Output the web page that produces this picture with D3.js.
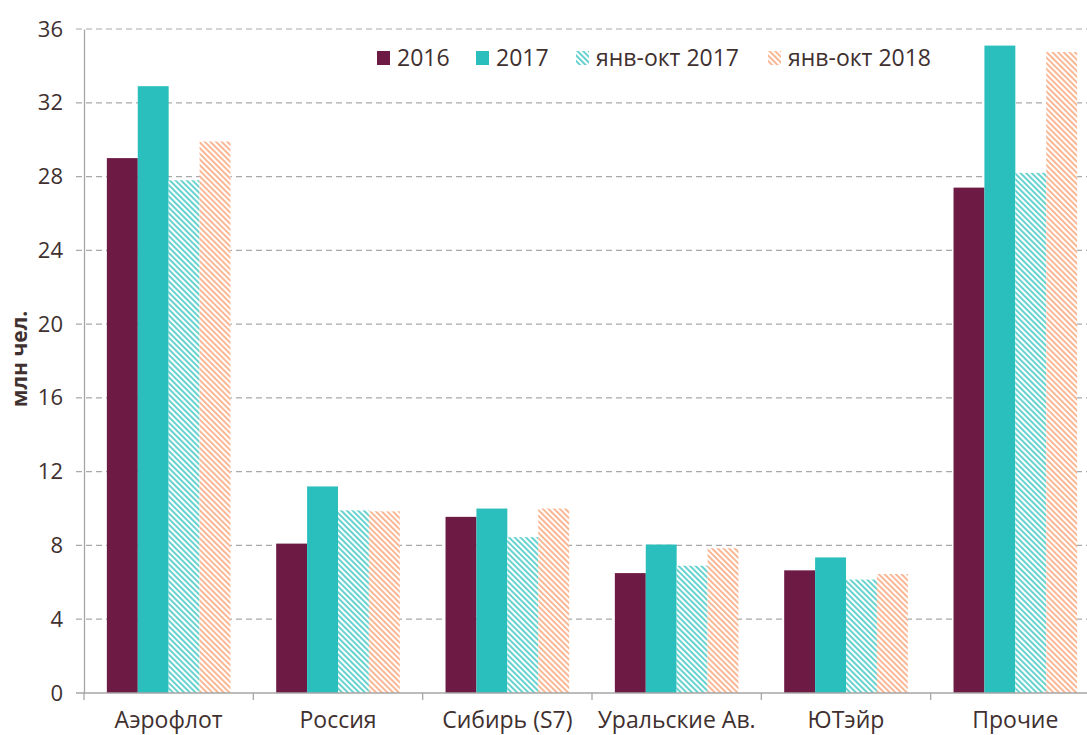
<!DOCTYPE html>
<html>
<head>
<meta charset="utf-8">
<script src="https://cdn.jsdelivr.net/npm/d3@7"></script>
<style>
  body { margin: 0; background: #fff; }
  #my_dataviz { width: 1087px; height: 735px; }
</style>
</head>
<body>
<div id="my_dataviz"></div>
<script>
// categories and series (млн чел.)
var categories = ["Аэрофлот", "Россия", "Сибирь (S7)", "Уральские Ав.", "ЮТэйр", "Прочие"];
var seriesNames = ["2016", "2017", "янв-окт 2017", "янв-окт 2018"];
var v2016 = [29.0, 8.1, 9.55, 6.5, 6.65, 27.4];
var v2017 = [32.9, 11.2, 10.0, 8.05, 7.35, 35.1];
var vJanOct2017 = [27.8, 9.9, 8.45, 6.9, 6.15, 28.2];
var vJanOct2018 = [29.9, 9.85, 10.0, 7.85, 6.45, 34.75];
var yTicks = [0, 4, 8, 12, 16, 20, 24, 28, 32, 36];

var w = 1087, h = 735;
var textColor = "#40302f";
var font = "'Open Sans', sans-serif";

var data = categories.map(function(c, i) {
  return {cat: c, values: [v2016[i], v2017[i], vJanOct2017[i], vJanOct2018[i]]};
});

var svg = d3.select("#my_dataviz").append("svg")
  .attr("width", w)
  .attr("height", h)
  .style("font-family", font);

var defs = svg.append("defs");
function hatch(id, color) {
  var p = defs.append("pattern")
    .attr("id", id)
    .attr("patternUnits", "userSpaceOnUse")
    .attr("width", 4)
    .attr("height", 4)
    .attr("patternTransform", "rotate(-45)");
  p.append("rect").attr("width", 4).attr("height", 4).attr("fill", "#fff");
  p.append("rect").attr("x", 0).attr("width", 1.9).attr("height", 4).attr("fill", color);
}
hatch("hatchTeal", "#5fd0cc");
hatch("hatchOrange", "#f9b48f");

var fills = ["#6d1a45", "#2abfbc", "url(#hatchTeal)", "url(#hatchOrange)"];

// scales
var x0 = d3.scaleBand()
  .domain(categories)
  .range([84, 1100])
  .paddingInner(0.27)
  .paddingOuter(0.135);
var x1 = d3.scaleBand()
  .domain(d3.range(seriesNames.length))
  .range([0, x0.bandwidth()]);
var y = d3.scaleLinear()
  .domain([0, 36])
  .range([693, 29]);

// gridlines
svg.append("g")
  .selectAll("line")
  .data(yTicks.filter(function(d) { return d > 0; }))
  .enter().append("line")
  .attr("x1", 76)
  .attr("x2", w)
  .attr("y1", function(d) { return y(d); })
  .attr("y2", function(d) { return y(d); })
  .attr("stroke", "#a9a9a9")
  .attr("stroke-width", 1.2)
  .attr("stroke-dasharray", "6,4");

// bars
var groups = svg.append("g")
  .selectAll("g")
  .data(data)
  .enter().append("g")
  .attr("transform", function(d) { return "translate(" + x0(d.cat) + ",0)"; });

groups.selectAll("rect")
  .data(function(d) { return d.values; })
  .enter().append("rect")
  .attr("x", function(d, i) { return x1(i); })
  .attr("width", x1.bandwidth())
  .attr("y", function(d) { return y(d); })
  .attr("height", function(d) { return y(0) - y(d); })
  .attr("fill", function(d, i) { return fills[i]; });

// y axis
var yAxis = svg.append("g")
  .attr("transform", "translate(84,0)")
  .call(d3.axisLeft(y).tickValues(yTicks).tickSize(0).tickPadding(21));
yAxis.select(".domain").attr("stroke", "#a6a6a6").attr("stroke-width", 1.3);
yAxis.selectAll("text")
  .attr("fill", textColor)
  .style("font-size", "22px")
  .style("font-family", font);

// x axis
var bounds = categories.map(function(c) { return x0(c) - x0.step() * x0.paddingInner() / 2; });
var xAxis = svg.append("g")
  .attr("transform", "translate(0," + y(0) + ")");
xAxis.append("line")
  .attr("x1", 76).attr("x2", w)
  .attr("stroke", "#a6a6a6").attr("stroke-width", 1.3);
xAxis.selectAll(".tk")
  .data(bounds)
  .enter().append("line")
  .attr("class", "tk")
  .attr("x1", function(d) { return d; })
  .attr("x2", function(d) { return d; })
  .attr("y1", 0).attr("y2", 7)
  .attr("stroke", "#a6a6a6").attr("stroke-width", 1.3);
xAxis.selectAll(".lbl")
  .data(categories)
  .enter().append("text")
  .attr("class", "lbl")
  .attr("x", function(d) { return x0(d) + x0.bandwidth() / 2; })
  .attr("y", 35)
  .attr("text-anchor", "middle")
  .attr("fill", textColor)
  .style("font-size", "23px")
  .text(function(d) { return d; });

// y title
svg.append("text")
  .attr("transform", "translate(27,359),rotate(-90)")
  .attr("text-anchor", "middle")
  .attr("fill", textColor)
  .style("font-size", "21px")
  .style("font-weight", "bold")
  .text("млн чел.");

// legend
var legendX = [377, 476, 576, 768];
var legend = svg.append("g");
var items = legend.selectAll("g")
  .data(seriesNames)
  .enter().append("g")
  .attr("transform", function(d, i) { return "translate(" + legendX[i] + ",51)"; });
items.append("rect")
  .attr("width", 13).attr("height", 14)
  .attr("fill", function(d, i) { return fills[i]; });
items.append("text")
  .attr("x", 20)
  .attr("y", 15)
  .attr("fill", textColor)
  .style("font-size", "23px")
  .text(function(d) { return d; });
</script>
</body>
</html>
